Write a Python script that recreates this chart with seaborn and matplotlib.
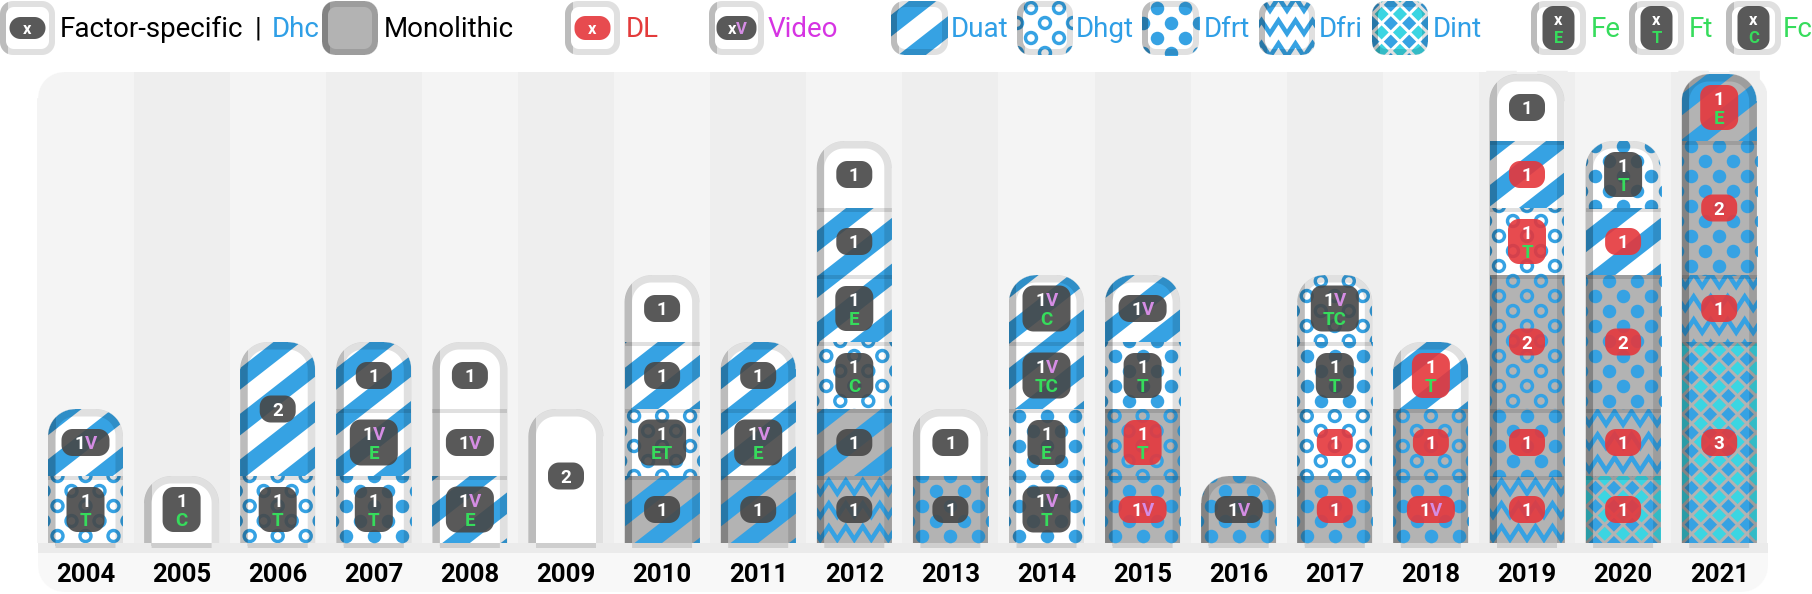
import numpy as np
import matplotlib
matplotlib.use("Agg")
import matplotlib.pyplot as plt
import seaborn as sns
from matplotlib.path import Path
from matplotlib.patches import PathPatch, Polygon
from matplotlib.collections import PolyCollection, LineCollection
from matplotlib.transforms import Bbox, TransformedBbox

years = list(range(2004, 2022))

# one entry per stacked cell, bottom to top inside each year
cell_year = [2004, 2004, 2005, 2006, 2006, 2007, 2007, 2007, 2008, 2008, 2008, 2009,
             2010, 2010, 2010, 2010, 2011, 2011, 2011,
             2012, 2012, 2012, 2012, 2012, 2012, 2013, 2013,
             2014, 2014, 2014, 2014, 2015, 2015, 2015, 2015, 2016,
             2017, 2017, 2017, 2017, 2018, 2018, 2018,
             2019, 2019, 2019, 2019, 2019, 2019, 2020, 2020, 2020, 2020, 2020,
             2021, 2021, 2021, 2021]
cell_count = [1, 1, 1, 1, 2, 1, 1, 1, 1, 1, 1, 2,
              1, 1, 1, 1, 1, 1, 1,
              1, 1, 1, 1, 1, 1, 1, 1,
              1, 1, 1, 1, 1, 1, 1, 1, 1,
              1, 1, 1, 1, 1, 1, 1,
              1, 1, 2, 1, 1, 1, 1, 1, 2, 1, 1,
              3, 1, 2, 1]
cell_pattern = ['Dhgt', 'Duat', 'Dhc', 'Dhgt', 'Duat', 'Dfrt', 'Duat', 'Duat', 'Duat', 'Dhc', 'Dhc', 'Dhc',
                'Duat', 'Dhgt', 'Duat', 'Dhc', 'Duat', 'Duat', 'Duat',
                'Dfri', 'Duat', 'Dhgt', 'Duat', 'Duat', 'Dhc', 'Dfrt', 'Dhc',
                'Dfrt', 'Dfrt', 'Duat', 'Duat', 'Dfrt', 'Dhgt', 'Dfrt', 'Duat', 'Dfrt',
                'Dfrt', 'Dhgt', 'Dfrt', 'Dhgt', 'Dfrt', 'Dhgt', 'Duat',
                'Dfri', 'Dfrt', 'Dhgt', 'Dhgt', 'Duat', 'Dhc', 'Dint', 'Dfri', 'Dfrt', 'Duat', 'Dfrt',
                'Dint', 'Dfri', 'Dfrt', 'Duat']
cell_mono = [0, 0, 0, 0, 0, 0, 0, 0, 0, 0, 0, 0,
             1, 0, 0, 0, 1, 0, 0,
             1, 1, 0, 0, 0, 0, 1, 0,
             0, 0, 0, 0, 1, 1, 0, 0, 1,
             1, 0, 0, 0, 1, 1, 0,
             1, 1, 1, 0, 0, 0, 1, 1, 1, 0, 0,
             1, 1, 1, 1]
cell_dl = [0, 0, 0, 0, 0, 0, 0, 0, 0, 0, 0, 0,
           0, 0, 0, 0, 0, 0, 0,
           0, 0, 0, 0, 0, 0, 0, 0,
           0, 0, 0, 0, 1, 1, 0, 0, 0,
           1, 1, 0, 0, 1, 1, 1,
           1, 1, 1, 1, 1, 0, 1, 1, 1, 1, 0,
           1, 1, 1, 1]
cell_video = [0, 1, 0, 0, 0, 0, 1, 0, 1, 1, 0, 0,
              0, 0, 0, 0, 0, 1, 0,
              0, 0, 0, 0, 0, 0, 0, 0,
              1, 0, 1, 1, 1, 0, 0, 1, 1,
              0, 0, 0, 1, 1, 0, 0,
              0, 0, 0, 0, 0, 0, 0, 0, 0, 0, 0,
              0, 0, 0, 0]
cell_factors = ['T', '', 'C', 'T', '', 'T', 'E', '', 'E', '', '', '',
                '', 'ET', '', '', '', 'E', '',
                '', '', 'C', 'E', '', '', '', '',
                'T', 'E', 'TC', 'C', '', 'T', 'T', '', '',
                '', '', 'T', 'TC', '', '', 'T',
                '', '', '', 'T', '', '', '', '', '', '', 'T',
                '', '', '', 'E']

# ---- look ----
BLUE = '#36a2e3'
CYAN = '#3bd5e2'
GRAY = '#b3b3b3'
DARK = '#474747'
RED = '#e5373c'
GREEN = '#36dc5c'
VIOLET = '#d58de4'
TXT_BLUE = '#2f9fe6'

FIG_W, FIG_H = 1812, 594
X0_PX, STEP_PX = 85.5, 96.1      # first column centre / column spacing (px)
BASE_PX, CELL_PX = 543, 67       # baseline from top / one cell (px)
W, R, RIM = 75, 27, 7.5

sns.set_theme(style='white')
plt.rcParams['font.family'] = ['Roboto', 'DejaVu Sans']

fig = plt.figure(figsize=(FIG_W / 100, FIG_H / 100), dpi=100)
ax = fig.add_axes([0, 0, 1, 1])


def rrect(x0, y0, x1, y1, rt, rb=0.0, n=16):
    def arc(cx, cy, r, a0, a1):
        if r <= 0:
            return np.array([[cx, cy]])
        t = np.radians(np.linspace(a0, a1, n))
        return np.column_stack([cx + r * np.cos(t), cy + r * np.sin(t)])
    return np.vstack([arc(x0 + rb, y0 + rb, rb, 180, 270),
                      arc(x1 - rb, y0 + rb, rb, 270, 360),
                      arc(x1 - rt, y1 - rt, rt, 0, 90),
                      arc(x0 + rt, y1 - rt, rt, 90, 180)])


def closed(v):
    return Path(np.vstack([v, v[:1]]), closed=True)


def col_conv(i):
    return lambda p: np.column_stack([i + p[:, 0] / STEP_PX, p[:, 1] / CELL_PX])


def clipbox(axx, conv, x0, y0, x1, y1):
    c = conv(np.array([[x0, y0], [x1, y1]], dtype=float))
    return TransformedBbox(Bbox(c), axx.transData)


def corner_masks(axx, conv, x0, x1, ytop, r, color, ybot=None, z=4.5):
    arc = lambda cx, cy, a0, a1: np.column_stack(
        [cx + r * np.cos(np.radians(np.linspace(a0, a1, 20))),
         cy + r * np.sin(np.radians(np.linspace(a0, a1, 20)))])
    polys = [np.vstack([[[x0 + r, ytop + 3], [x0 - 3, ytop + 3], [x0 - 3, ytop - r]],
                        arc(x0 + r, ytop - r, 180, 90)]),
             np.vstack([[[x1 - r, ytop + 3], [x1 + 3, ytop + 3], [x1 + 3, ytop - r]],
                        arc(x1 - r, ytop - r, 0, 90)])]
    if ybot is not None:
        polys += [np.vstack([[[x0 + r, ybot - 3], [x0 - 3, ybot - 3], [x0 - 3, ybot + r]],
                             arc(x0 + r, ybot + r, 180, 270)]),
                  np.vstack([[[x1 - r, ybot - 3], [x1 + 3, ybot - 3], [x1 + 3, ybot + r]],
                             arc(x1 - r, ybot + r, 360, 270)])]
    axx.add_collection(PolyCollection([conv(p) for p in polys], facecolors=color,
                                      edgecolors=color, linewidths=0.3, zorder=z))


def draw_pattern(axx, conv, kind, x0, y0, x1, y1, bg, z=3):
    if kind == 'Dhc':
        return
    box = clipbox(axx, conv, x0, y0, x1, y1)
    arts = []
    corners = np.array([[x0, y0], [x1, y0], [x1, y1], [x0, y1]], dtype=float)
    if kind == 'Duat':
        th = np.radians(38)
        d = np.array([np.cos(th), np.sin(th)])
        nv = np.array([-np.sin(th), np.cos(th)])
        u = corners @ nv
        m = corners.mean(axis=0) @ d
        P, bw, L = 36, 17, 400
        polys = []
        for k in range(int(np.floor(u.min() / P)) - 1, int(np.ceil(u.max() / P)) + 1):
            a, b = k * P, k * P + bw
            q = np.array([a * nv + (m - L) * d, a * nv + (m + L) * d,
                          b * nv + (m + L) * d, b * nv + (m - L) * d])
            polys.append(conv(q))
        arts.append(axx.add_collection(PolyCollection(polys, facecolors=BLUE, edgecolors='none', zorder=z)))
    elif kind in ('Dhgt', 'Dfrt'):
        dx, dy = 28, 15
        pts = []
        for j in range(int(np.floor(y0 / dy)) - 1, int(np.ceil(y1 / dy)) + 2):
            off = (j % 2) * dx / 2
            for k in range(int(np.floor((x0 - off) / dx)) - 1, int(np.ceil((x1 - off) / dx)) + 2):
                pts.append((k * dx + off, j * dy + 7))
        xy = conv(np.array(pts, dtype=float))
        if kind == 'Dfrt':
            sc = axx.scatter(xy[:, 0], xy[:, 1], s=(13.5 * 0.72) ** 2, color=BLUE, linewidths=0, zorder=z)
        else:
            sc = axx.scatter(xy[:, 0], xy[:, 1], s=(11 * 0.72) ** 2, facecolors='none',
                             edgecolors=BLUE, linewidths=3.4 * 0.72, zorder=z)
        arts.append(sc)
    elif kind == 'Dfri':
        wl, amp, gap = 17, 13, 23
        lines = []
        for j in range(int(np.floor(y0 / gap)) - 1, int(np.ceil(y1 / gap)) + 1):
            xs = np.arange(np.floor(x0 / wl) * wl - wl, x1 + wl, wl / 2)
            ys = j * gap + 10 + np.where(np.arange(len(xs)) % 2 == 0, -amp / 2, amp / 2)
            lines.append(conv(np.column_stack([xs, ys])))
        lc = LineCollection(lines, colors=BLUE, linewidths=4.5 * 0.72, zorder=z)
        lc.set_joinstyle('miter')
        arts.append(axx.add_collection(lc))
    elif kind == 'Dint':
        s, r2 = 13, np.sqrt(2)
        arts.append(axx.add_collection(PolyCollection([conv(corners)], facecolors=CYAN,
                                                      edgecolors='none', zorder=z)))
        A = (corners[:, 0] + corners[:, 1]) / r2
        B = (corners[:, 0] - corners[:, 1]) / r2
        ka = range(int(np.floor(A.min() / s)) - 1, int(np.ceil(A.max() / s)) + 1)
        kb = range(int(np.floor(B.min() / s)) - 1, int(np.ceil(B.max() / s)) + 1)
        polys = []
        for k in ka:
            for m in kb:
                if (k + m) % 2:
                    continue
                aa = np.array([k, k + 1, k + 1, k]) * s
                bb = np.array([m, m, m + 1, m + 1]) * s
                polys.append(conv(np.column_stack([(aa + bb) / r2, (aa - bb) / r2])))
        arts.append(axx.add_collection(PolyCollection(polys, facecolors=BLUE, edgecolors='none', zorder=z)))
        lines = []
        bspan = np.array([B.min() - s, B.max() + s])
        aspan = np.array([A.min() - s, A.max() + s])
        for k in ka:
            a = k * s
            lines.append(conv(np.column_stack([(a + bspan) / r2, (a - bspan) / r2])))
        for m in kb:
            b = m * s
            lines.append(conv(np.column_stack([(aspan + b) / r2, (aspan - b) / r2])))
        arts.append(axx.add_collection(LineCollection(lines, colors=bg, linewidths=3 * 0.72, zorder=z)))
    for a in arts:
        a.set_clip_box(box)


def draw_rim(axx, conv, outer, inner, xl, y0, y1, z=5):
    path = Path.make_compound_path(closed(conv(outer)), closed(conv(inner)[::-1]))
    axx.add_patch(PathPatch(path, fc='black', alpha=0.12, lw=0, zorder=z))
    dark = PathPatch(path, fc='black', alpha=0.16, lw=0, zorder=z)
    axx.add_patch(dark)
    dark.set_clip_box(clipbox(axx, conv, xl - 3, y0 - 3, xl + RIM, y1 + 3))


def draw_badge(axx, conv, cx, cy, num, video, factors, dl, z=6, fs=13.5, size=None):
    two = len(factors) > 0
    if size is not None:
        w, h = size
    elif two:
        w, h = (48, 46) if (video or len(factors) > 1) else (38, 45)
    else:
        w, h = (48, 27) if video else (36, 27)
    axx.add_patch(Polygon(conv(rrect(cx - w / 2, cy - h / 2, cx + w / 2, cy + h / 2, 11, 11)),
                          closed=True, fc=RED if dl else DARK, alpha=0.9, lw=0, zorder=z))
    cap = 0.711 * fs * 100 / 72
    ny = cy + 9 if two else cy

    def put(x, y, s, col, ha):
        X, Y = conv(np.array([[x, y - cap / 2]], dtype=float))[0]
        axx.text(X, Y, s, color=col, ha=ha, va='baseline', fontsize=fs,
                 fontweight='bold', zorder=z + 1)
    if video:
        put(cx - 0.5, ny, num, 'white', 'right')
        put(cx - 0.5, ny, 'V', VIOLET, 'left')
    else:
        put(cx, ny, num, 'white', 'center')
    if two:
        put(cx, cy - 9.5, factors, GREEN, 'center')


# ---- panel with alternating year bands ----
panel_conv = col_conv(0)
band_colors = ['#f4f4f4' if k % 2 == 0 else '#eeeeee' for k in range(len(years))]
sns.barplot(x=[str(y) for y in years], y=[471 / CELL_PX] * len(years), hue=[str(y) for y in years],
            palette=band_colors, width=1.0, linewidth=0, saturation=1, errorbar=None,
            legend=False, ax=ax, zorder=0)
for (ya, yb, colr) in [(-10, 0, '#ebebeb'), (-49, -10, '#f8f8f8')]:
    ax.add_patch(Polygon(panel_conv(rrect(-47.5, ya, 1682.5, yb, 0)), closed=True,
                         fc=colr, lw=0, zorder=0.5))
corner_masks(ax, panel_conv, -47.5, 1682.5, 471, 26, 'white', ybot=-49, z=0.8)

# ---- stacked columns ----
for i, yr in enumerate(years):
    ks = [k for k in range(len(cell_year)) if cell_year[k] == yr]
    counts = [cell_count[k] for k in ks]
    bottoms = np.concatenate([[0], np.cumsum(counts)[:-1]])
    total = sum(counts)
    conv = col_conv(i)
    top = total * CELL_PX
    ax.bar([i] * len(ks), counts, bottom=bottoms, width=W / STEP_PX,
           color=[GRAY if cell_mono[k] else 'white' for k in ks], linewidth=0, zorder=2)
    for j, k in enumerate(ks):
        y0 = bottoms[j] * CELL_PX
        y1 = (bottoms[j] + counts[j]) * CELL_PX
        draw_pattern(ax, conv, cell_pattern[k], -W / 2, y0, W / 2, y1,
                     GRAY if cell_mono[k] else 'white')
        if j < len(ks) - 1:
            ax.add_patch(Polygon(conv(rrect(-W / 2, y1 - 4, W / 2, y1, 0)), closed=True,
                                 fc='black', alpha=0.12, lw=0, zorder=4))
    corner_masks(ax, conv, -W / 2, W / 2, top, R, band_colors[i])
    draw_rim(ax, conv, rrect(-W / 2, 0, W / 2, top, R),
             rrect(-W / 2 + RIM, -5, W / 2 - RIM, top - RIM, R - RIM), -W / 2, 0, top)
    for j, k in enumerate(ks):
        cy = (bottoms[j] + counts[j] / 2) * CELL_PX
        draw_badge(ax, conv, 0, cy, str(cell_count[k]), cell_video[k], cell_factors[k], cell_dl[k])
    ax.text(i, -39 / CELL_PX, str(yr), ha='center', va='baseline', fontsize=18.5,
            fontweight='bold', color='black', zorder=7)

ax.set_xlim(-X0_PX / STEP_PX, (FIG_W - X0_PX) / STEP_PX)
ax.set_ylim(-(FIG_H - BASE_PX) / CELL_PX, BASE_PX / CELL_PX)
ax.axis('off')

# ---- legend strip ----
lax = fig.add_axes([0, 1 - 60 / FIG_H, 1, 60 / FIG_H])
lax.set_xlim(0, FIG_W)
lax.set_ylim(0, 60)
lax.axis('off')

legend_icons = [(0, 55, None, 0, 'dark', ''), (322, 378, None, 1, None, ''),
                (565, 620, None, 0, 'red', ''), (709, 764, None, 0, 'video', ''),
                (891, 948, 'Duat', 0, None, ''), (1017, 1073, 'Dhgt', 0, None, ''),
                (1142, 1199, 'Dfrt', 0, None, ''), (1259, 1315, 'Dfri', 0, None, ''),
                (1372, 1428, 'Dint', 0, None, ''), (1531, 1586, None, 0, 'tall', 'E'),
                (1629, 1684, None, 0, 'tall', 'T'), (1726, 1781, None, 0, 'tall', 'C')]
for (xa, xb, kind, mono, bd, letter) in legend_icons:
    cxl = (xa + xb) / 2
    w = xb - xa
    lconv = (lambda c: (lambda p: np.column_stack([c + p[:, 0], p[:, 1]])))(cxl)
    bg = GRAY if mono else 'white'
    lax.add_patch(Polygon(lconv(rrect(-w / 2, 5, w / 2, 59, 0)), closed=True, fc=bg, lw=0, zorder=2))
    if kind:
        draw_pattern(lax, lconv, kind, -w / 2, 5, w / 2, 59, bg)
    corner_masks(lax, lconv, -w / 2, w / 2, 59, 13, 'white', ybot=5)
    draw_rim(lax, lconv, rrect(-w / 2, 5, w / 2, 59, 13, 13),
             rrect(-w / 2 + 6, 11, w / 2 - 6, 53, 8, 8), -w / 2, 5, 59)
    if bd == 'dark':
        draw_badge(lax, lconv, 0, 32, 'x', 0, '', 0, fs=12, size=(36, 22))
    elif bd == 'red':
        draw_badge(lax, lconv, 0, 32, 'x', 0, '', 1, fs=12, size=(36, 24))
    elif bd == 'video':
        draw_badge(lax, lconv, 0, 32, 'x', 1, '', 0, fs=12, size=(40, 24))
    elif bd == 'tall':
        draw_badge(lax, lconv, 0, 32, 'x', 0, letter, 0, fs=12, size=(32, 44))

legend_texts = [(60, 'Factor-specific', 'black'), (255, '|', 'black'), (272, 'Dhc', TXT_BLUE),
                (384, 'Monolithic', 'black'), (626, 'DL', '#e33b3b'), (768, 'Video', '#d634e3'),
                (951, 'Duat', TXT_BLUE), (1076, 'Dhgt', TXT_BLUE), (1204, 'Dfrt', TXT_BLUE),
                (1319, 'Dfri', TXT_BLUE), (1433, 'Dint', TXT_BLUE), (1591, 'Fe', GREEN),
                (1689, 'Ft', GREEN), (1783, 'Fc', GREEN)]
for (tx, s, colr) in legend_texts:
    lax.text(tx, 23, s, color=colr, fontsize=20, ha='left', va='baseline')

fig.savefig('out.png', dpi=100)
